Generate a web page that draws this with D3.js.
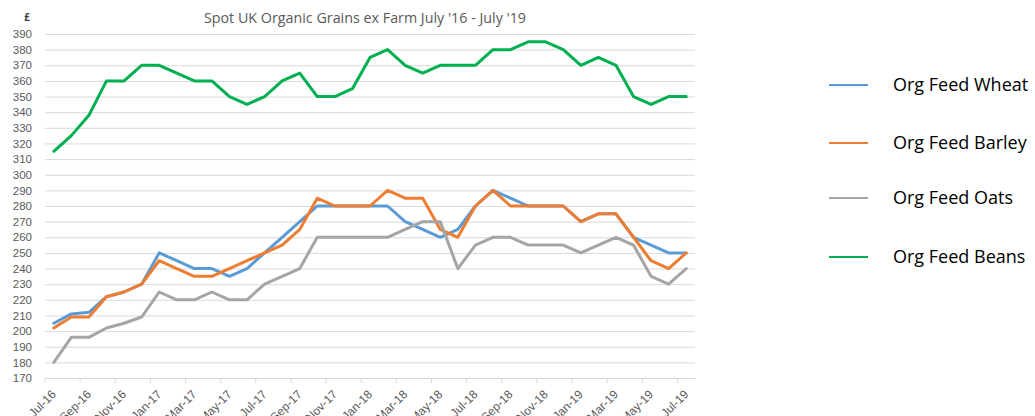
<!DOCTYPE html>
<html>
<head>
<meta charset="utf-8">
<script src="https://cdn.jsdelivr.net/npm/d3@7"></script>
<style>
  body { margin: 0; background: #fff; }
  svg { font-family: "Open Sans", "Noto Sans", sans-serif; }
</style>
</head>
<body>
<svg id="mainSvg"></svg>
<script>
var WIDTH = 1035;
var HEIGHT = 416;

var MONTHS = [
  "Jul-16", "Aug-16", "Sep-16", "Oct-16", "Nov-16", "Dec-16",
  "Jan-17", "Feb-17", "Mar-17", "Apr-17", "May-17", "Jun-17",
  "Jul-17", "Aug-17", "Sep-17", "Oct-17", "Nov-17", "Dec-17",
  "Jan-18", "Feb-18", "Mar-18", "Apr-18", "May-18", "Jun-18",
  "Jul-18", "Aug-18", "Sep-18", "Oct-18", "Nov-18", "Dec-18",
  "Jan-19", "Feb-19", "Mar-19", "Apr-19", "May-19", "Jun-19",
  "Jul-19"
];
var WHEAT = [205, 211, 212, 222, 225, 230, 250, 245, 240, 240, 235, 240,
  250, 260, 270, 280, 280, 280, 280, 280, 270, 265, 260, 265,
  280, 290, 285, 280, 280, 280, 270, 275, 275, 260, 255, 250, 250];
var BARLEY = [202, 209, 209, 222, 225, 230, 245, 240, 235, 235, 240, 245,
  250, 255, 265, 285, 280, 280, 280, 290, 285, 285, 265, 260,
  280, 290, 280, 280, 280, 280, 270, 275, 275, 260, 245, 240, 250];
var OATS = [180, 196, 196, 202, 205, 209, 225, 220, 220, 225, 220, 220,
  230, 235, 240, 260, 260, 260, 260, 260, 265, 270, 270, 240,
  255, 260, 260, 255, 255, 255, 250, 255, 260, 255, 235, 230, 240];
var BEANS = [315, 325, 338, 360, 360, 370, 370, 365, 360, 360, 350, 345,
  350, 360, 365, 350, 350, 355, 375, 380, 370, 365, 370, 370,
  370, 380, 380, 385, 385, 380, 370, 375, 370, 350, 345, 350, 350];
var SERIES_NAMES = ["Org Feed Wheat", "Org Feed Barley", "Org Feed Oats", "Org Feed Beans"];
var SERIES_COLORS = ["#5B9BD5", "#ED7D31", "#A5A5A5", "#00B050"];
var Y_TICKS = d3.range(170, 391, 10);

var PLOT_LEFT = 45, PLOT_RIGHT = 695, PLOT_TOP = 34, PLOT_BOTTOM = 378;

function render() {
  var svg = d3.select("#mainSvg")
    .attr("width", WIDTH)
    .attr("height", HEIGHT);

  var x = d3.scaleBand().domain(MONTHS).range([PLOT_LEFT, PLOT_RIGHT]).padding(0);
  var y = d3.scaleLinear().domain([170, 390]).range([PLOT_BOTTOM, PLOT_TOP]);
  var half = x.bandwidth() / 2;

  // gridlines + y labels
  var yAxis = svg.append("g")
    .attr("transform", "translate(" + PLOT_LEFT + ",0)")
    .call(d3.axisLeft(y).tickValues(Y_TICKS).tickSize(-(PLOT_RIGHT - PLOT_LEFT)).tickPadding(13));
  yAxis.select(".domain").remove();
  yAxis.selectAll(".tick line").attr("stroke", "#D9D9D9");
  yAxis.selectAll(".tick text")
    .attr("fill", "#595959")
    .style("font-size", "11.5px");

  // x axis, ticks sit between categories
  var evenMonths = MONTHS.filter(function (d, i) { return i % 2 === 0; });
  var xAxis = svg.append("g")
    .attr("transform", "translate(0," + PLOT_BOTTOM + ")")
    .call(d3.axisBottom(x).tickValues(evenMonths).tickSize(0).tickSizeOuter(0));
  xAxis.select(".domain").attr("stroke", "#D9D9D9");
  xAxis.selectAll(".tick").each(function () {
    d3.select(this).append("line")
      .attr("x1", -half).attr("x2", -half)
      .attr("y1", 0).attr("y2", 5)
      .attr("stroke", "#D9D9D9");
  });
  xAxis.selectAll(".tick text")
    .attr("fill", "#595959")
    .style("font-size", "12px")
    .attr("text-anchor", "end")
    .attr("y", 0)
    .attr("dy", 0)
    .attr("transform", "translate(3,17) rotate(-45)");

  // lines
  var data = [WHEAT, BARLEY, OATS, BEANS];
  var line = d3.line()
    .x(function (d, i) { return x(MONTHS[i]) + half; })
    .y(function (d) { return y(d); });
  svg.selectAll(".series")
    .data(data)
    .enter()
    .append("path")
    .attr("class", "series")
    .attr("d", line)
    .attr("fill", "none")
    .attr("stroke", function (d, i) { return SERIES_COLORS[i]; })
    .attr("stroke-width", 3)
    .attr("stroke-linejoin", "round")
    .attr("stroke-linecap", "round");

  // title and unit
  svg.append("text")
    .attr("x", 365).attr("y", 23)
    .attr("text-anchor", "middle")
    .attr("fill", "#595959")
    .style("font-size", "14.3px")
    .text("Spot UK Organic Grains ex Farm July '16 - July '19");
  svg.append("text")
    .attr("x", 27).attr("y", 21)
    .attr("text-anchor", "middle")
    .attr("fill", "#404040")
    .style("font-size", "10px")
    .style("font-weight", "bold")
    .text("£");

  // legend
  var legendY = [85, 143, 198, 257];
  var legend = svg.selectAll(".legend")
    .data(SERIES_NAMES)
    .enter()
    .append("g")
    .attr("class", "legend")
    .attr("transform", function (d, i) { return "translate(0," + legendY[i] + ")"; });
  legend.append("line")
    .attr("x1", 829).attr("x2", 868)
    .attr("stroke", function (d, i) { return SERIES_COLORS[i]; })
    .attr("stroke-width", 2);
  legend.append("text")
    .attr("x", 893).attr("y", 6)
    .attr("fill", "#000")
    .style("font-size", "18px")
    .text(function (d) { return d; });
}

render();
</script>
</body>
</html>
